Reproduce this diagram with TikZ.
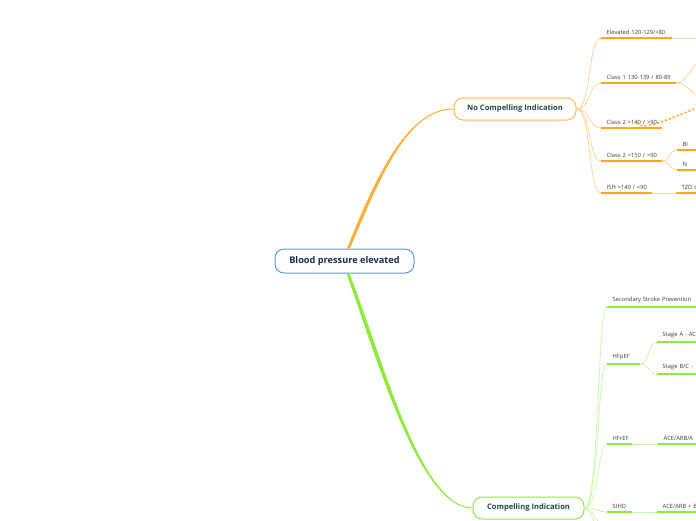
\documentclass[tikz,border=0pt]{standalone}
\usepackage{fontspec}
\setmainfont{Open Sans}
\usepackage{tikz}
\usetikzlibrary{calc}
\definecolor{rb}{HTML}{5B9BD5}
\definecolor{rx}{HTML}{1B2A55}
\definecolor{og}{HTML}{FFA620}
\definecolor{ol}{HTML}{FFD49A}
\definecolor{gn}{HTML}{8EEB3C}
\definecolor{gl}{HTML}{CFF6AC}
\definecolor{tx}{HTML}{1D4E3C}
\definecolor{lf}{HTML}{3A3A3A}

\begin{document}
\begin{tikzpicture}[x=1pt, y=-1pt,
  rootbox/.style={draw=rb, line width=1pt, rounded corners=9pt, fill=white,
    minimum width=139, minimum height=24, text=rx,
    font=\fontsize{9.2}{10}\selectfont\bfseries},
  mainbox/.style={line width=1pt, rounded corners=9pt, fill=white,
    minimum height=22, text=tx, font=\fontsize{7.6}{8}\selectfont\bfseries},
  leaf/.style={anchor=south west, inner xsep=5.5pt, inner ysep=3.5pt,
    text width=#1, align=left, text=lf, font=\fontsize{5.8}{6}\selectfont,
    execute at begin node=\hbox\bgroup, execute at end node=\egroup},
  ulo/.style={og, line width=1.8pt},
  ulg/.style={gn, line width=1.8pt},
  lko/.style={ol, line width=0.8pt},
  lkg/.style={gl, line width=0.8pt},
  reldots/.style={og, line width=1.6pt, dash pattern=on 2pt off 2.2pt}]
  \useasboundingbox (0,0) rectangle (696,520);
  \clip (0,0) rectangle (696,520);

  % central topic and its two branches
  \node[rootbox] (root) at (344.5,261) {Blood pressure elevated};
  \node[mainbox, draw=og!80, minimum width=122] (nci) at (515,109) {No Compelling Indication};
  \node[mainbox, draw=gn, minimum width=111] (ci) at (528.5,508) {Compelling Indication};

  \fill[og!90] ($(root.north)+(2.5,0)$) .. controls +(31,-79) and +(-44,0) .. ($(nci.west)+(0,-0.5)$)
    -- ($(nci.west)+(0,0.5)$) .. controls +(-44,0) and +(33,-79) .. ($(root.north)+(5.5,0)$) -- cycle;
  \fill[gn] ($(root.south)+(2,0)$) .. controls +(31,87) and +(-53,0) .. ($(ci.west)+(0,0.5)$)
    -- ($(ci.west)+(0,-0.5)$) .. controls +(-52,0) and +(34,87) .. ($(root.south)+(5,0)$) -- cycle;

  % no compelling indication
  \node[leaf=60] (e1) at (601,38) {Elevated 120-129/<80};
  \node[leaf=64] (c1) at (601,83) {Class 1 130-139 / 80-89};
  \node[leaf=50] (c2) at (601,128) {Class 2 >140 / >90};
  \node[leaf=50] (c3) at (601,161) {Class 2 >150 / >90};
  \node[leaf=40] (c4) at (601,193) {ISH >140 / <90};
  \node[leaf=40] (b1) at (677,150) {Bl};
  \node[leaf=40] (b2) at (677,170) {N};
  \node[leaf=40] (t1) at (676,193) {TZD c};
  \coordinate (e1r) at (710,38);
  \coordinate (c1u) at (704,58);
  \coordinate (c1d) at (704,98);
  \coordinate (rl) at (704,105);

  \foreach \n in {e1,c1,c2,c3,c4}
    \draw[lko] (nci.east) .. controls +(15,0) and +(-13,0) .. (\n.south west);
  \draw[lko] (e1.south east) -- (e1r);
  \draw[lko] (c1.south east) .. controls +(12,0) and +(-10,0) .. (c1u);
  \draw[lko] (c1.south east) .. controls +(12,0) and +(-10,0) .. (c1d);
  \draw[lko] (c3.south east) .. controls +(8,0) and +(-8,0) .. (b1.south west);
  \draw[lko] (c3.south east) .. controls +(8,0) and +(-8,0) .. (b2.south west);
  \draw[lko] (c4.south east) -- (t1.south west);
  \foreach \n in {e1,c1,c2,c3,c4,b1,b2,t1}
    \draw[ulo] (\n.south west) -- (\n.south east);
  \draw[reldots] ($(c2.south west)+(36,-5)$) .. controls +(6,8) and +(-40,16) .. (rl);

  % compelling indication
  \node[leaf=120] (s1) at (607,307) {Secondary Stroke Prevention};
  \node[leaf=22] (h1) at (607,364) {HFpEF};
  \node[leaf=60] (sa) at (657,342) {Stage A - AC};
  \node[leaf=60] (sb) at (657,374) {Stage B/C -};
  \node[leaf=14] (h2) at (607,444) {HFrEF};
  \node[leaf=50] (a2) at (658,444) {ACE/ARB/A};
  \node[leaf=14] (s2) at (607,512) {SIHD};
  \node[leaf=50] (a3) at (657,512) {ACE/ARB + B};
  \coordinate (cd1) at (612,535);
  \coordinate (cd2) at (612,560);

  \foreach \n in {s1,h1,h2,s2}
    \draw[lkg] (ci.east) .. controls +(15,0) and +(-10,0) .. (\n.south west);
  \draw[lkg] (ci.east) .. controls +(10,0) and +(-10,0) .. (cd1);
  \draw[lkg] (ci.east) .. controls +(10,0) and +(-10,0) .. (cd2);
  \draw[lkg] (h1.south east) .. controls +(9,0) and +(-9,0) .. (sa.south west);
  \draw[lkg] (h1.south east) .. controls +(9,0) and +(-9,0) .. (sb.south west);
  \draw[lkg] (h2.south east) -- (a2.south west);
  \draw[lkg] (s2.south east) -- (a3.south west);
  \foreach \n in {s1,h1,sa,sb,h2,a2,s2,a3}
    \draw[ulg] (\n.south west) -- (\n.south east);
\end{tikzpicture}
\end{document}
